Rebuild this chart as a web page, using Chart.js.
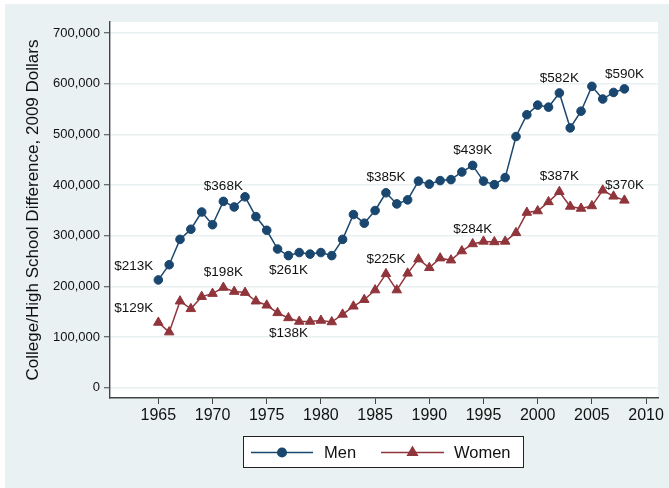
<!DOCTYPE html>
<html>
<head>
<meta charset="utf-8">
<script src="https://cdn.jsdelivr.net/npm/chart.js@4"></script>
<style>
  html, body { margin: 0; padding: 0; background: #fff; }
  canvas { display: block; }
</style>
</head>
<body>
<canvas id="myChart" width="669" height="488"></canvas>
<script>
// values in thousands of 2009 dollars
const years = [1965, 1966, 1967, 1968, 1969, 1970, 1971, 1972, 1973, 1974,
  1975, 1976, 1977, 1978, 1979, 1980, 1981, 1982, 1983, 1984,
  1985, 1986, 1987, 1988, 1989, 1990, 1991, 1992, 1993, 1994,
  1995, 1996, 1997, 1998, 1999, 2000, 2001, 2002, 2003, 2004,
  2005, 2006, 2007, 2008];
const men = [213, 243, 293, 313, 347, 322, 368, 357, 377, 338,
  311, 274, 261, 267, 264, 267, 261, 293, 342, 325,
  350, 385, 363, 371, 408, 402, 409, 411, 426, 439,
  408, 401, 415, 496, 539, 558, 554, 582, 513, 546,
  595, 570, 583, 590];
const women = [129, 110, 171, 156, 180, 186, 198, 190, 188, 171,
  163, 148, 138, 131, 131, 133, 130, 145, 161, 174,
  193, 225, 193, 226, 254, 237, 256, 252, 270, 284,
  289, 288, 289, 306, 346, 349, 367, 387, 358, 354,
  359, 390, 378, 370];
const labelYears = [1965, 1971, 1977, 1986, 1994, 2002, 2008];
const yTicks = [0, 100000, 200000, 300000, 400000, 500000, 600000, 700000];
const xTicks = [1965, 1970, 1975, 1980, 1985, 1990, 1995, 2000, 2005, 2010];

const FONT = '"Liberation Sans", Arial, sans-serif';
const NAVY = "#1a476f";
const MAROON = "#90353b";

const toPoints = (vals) => years.map((yr, i) => ({ x: yr, y: vals[i] * 1000 }));

const bgPlugin = {
  id: "bg",
  beforeDraw(chart) {
    const { ctx, chartArea: a } = chart;
    ctx.save();
    ctx.fillStyle = "#ffffff";
    ctx.fillRect(0, 0, chart.width, chart.height);
    ctx.fillStyle = "#eaf1f3";
    ctx.fillRect(5, 4, chart.width - 5, chart.height - 4);
    ctx.fillStyle = "#ffffff";
    ctx.fillRect(a.left, a.top, a.right - a.left, a.bottom - a.top);
    ctx.restore();
  },
};

// "$368K" style labels at chosen years
const valueLabels = {
  id: "valueLabels",
  afterDatasetsDraw(chart) {
    const { ctx, scales } = chart;
    ctx.save();
    ctx.font = "13.5px " + FONT;
    ctx.fillStyle = "#111";
    ctx.textBaseline = "middle";
    chart.data.datasets.forEach((ds) => {
      ds.data.forEach((p) => {
        if (!labelYears.includes(p.x)) return;
        const px = scales.x.getPixelForValue(p.x);
        const py = scales.y.getPixelForValue(p.y);
        const txt = "$" + Math.round(p.y / 1000) + "K";
        if (p.x === years[0]) {
          ctx.textAlign = "right";
          ctx.fillText(txt, px - 5, py - 14);
        } else if (p.x === 1977) {
          ctx.textAlign = "center";
          ctx.fillText(txt, px, py + 15);
        } else {
          ctx.textAlign = "center";
          ctx.fillText(txt, px, py - 15);
        }
      });
    });
    ctx.restore();
  },
};

// boxed legend: line with marker in the middle
const boxLegend = {
  id: "boxLegend",
  afterDraw(chart) {
    const { ctx } = chart;
    ctx.save();
    ctx.fillStyle = "#fff";
    ctx.fillRect(243.5, 436.5, 280, 31);
    ctx.strokeStyle = "#222";
    ctx.lineWidth = 1;
    ctx.strokeRect(243.5, 436.5, 280, 31);
    const cy = 452.5;
    const items = [
      { x0: 251, x1: 313, tx: 324, ds: chart.data.datasets[0] },
      { x0: 381, x1: 444, tx: 454, ds: chart.data.datasets[1] },
    ];
    ctx.font = "16.5px " + FONT;
    ctx.textBaseline = "middle";
    ctx.textAlign = "left";
    items.forEach((it) => {
      ctx.strokeStyle = it.ds.borderColor;
      ctx.lineWidth = 1.5;
      ctx.beginPath();
      ctx.moveTo(it.x0, cy);
      ctx.lineTo(it.x1, cy);
      ctx.stroke();
      ctx.fillStyle = it.ds.pointBackgroundColor;
      Chart.helpers.drawPoint(ctx, {
        pointStyle: it.ds.pointStyle,
        radius: it.ds.pointRadius,
        borderWidth: 1,
        rotation: 0,
      }, (it.x0 + it.x1) / 2, cy);
      ctx.fillStyle = "#111";
      ctx.fillText(it.ds.label, it.tx, cy + 1);
    });
    ctx.restore();
  },
};

const ctx = document.getElementById("myChart").getContext("2d");
const chart = new Chart(ctx, {
  type: "line",
  data: {
    datasets: [
      {
        label: "Men",
        data: toPoints(men),
        borderColor: NAVY,
        backgroundColor: NAVY,
        pointBackgroundColor: NAVY,
        pointBorderColor: NAVY,
        pointStyle: "circle",
        pointRadius: 4.3,
        pointBorderWidth: 1,
        borderWidth: 1.5,
        tension: 0,
      },
      {
        label: "Women",
        data: toPoints(women),
        borderColor: MAROON,
        backgroundColor: MAROON,
        pointBackgroundColor: MAROON,
        pointBorderColor: MAROON,
        pointStyle: "triangle",
        pointRadius: 5.5,
        pointBorderWidth: 1,
        borderWidth: 1.5,
        tension: 0,
      },
    ],
  },
  options: {
    responsive: false,
    animation: false,
    devicePixelRatio: 1,
    layout: { padding: { top: 22, right: 11, bottom: 0, left: 0 } },
    plugins: {
      legend: { display: false },
      tooltip: { enabled: false },
    },
    scales: {
      x: {
        type: "linear",
        min: 1960.54,
        max: 2011.1,
        afterBuildTicks: (axis) => { axis.ticks = xTicks.map((v) => ({ value: v })); },
        afterFit: (axis) => { axis.height = 90; },
        grid: { drawOnChartArea: false, tickLength: 6, tickColor: "#444", tickWidth: 1 },
        border: { color: "#444", width: 1.4 },
        ticks: { color: "#111", padding: 2, maxRotation: 0, font: { family: FONT, size: 16 }, callback: (v) => String(v) },
      },
      y: {
        type: "linear",
        min: -20000,
        max: 722000,
        afterBuildTicks: (axis) => { axis.ticks = yTicks.map((v) => ({ value: v })); },
        afterFit: (axis) => { axis.width = 110; },
        grid: { color: "#e8f0f2", lineWidth: 1.5, tickLength: 6, tickColor: "#444", tickWidth: 1 },
        border: { color: "#444", width: 1.4 },
        ticks: {
          color: "#111",
          padding: 4,
          font: { family: FONT, size: 13 },
          callback: (v) => v.toLocaleString("en-US"),
        },
        title: {
          display: true,
          text: "College/High School Difference, 2009 Dollars",
          color: "#111",
          font: { family: FONT, size: 17 },
          padding: { top: 23, bottom: 0 },
        },
      },
    },
  },
  plugins: [bgPlugin, valueLabels, boxLegend],
});
</script>
</body>
</html>
